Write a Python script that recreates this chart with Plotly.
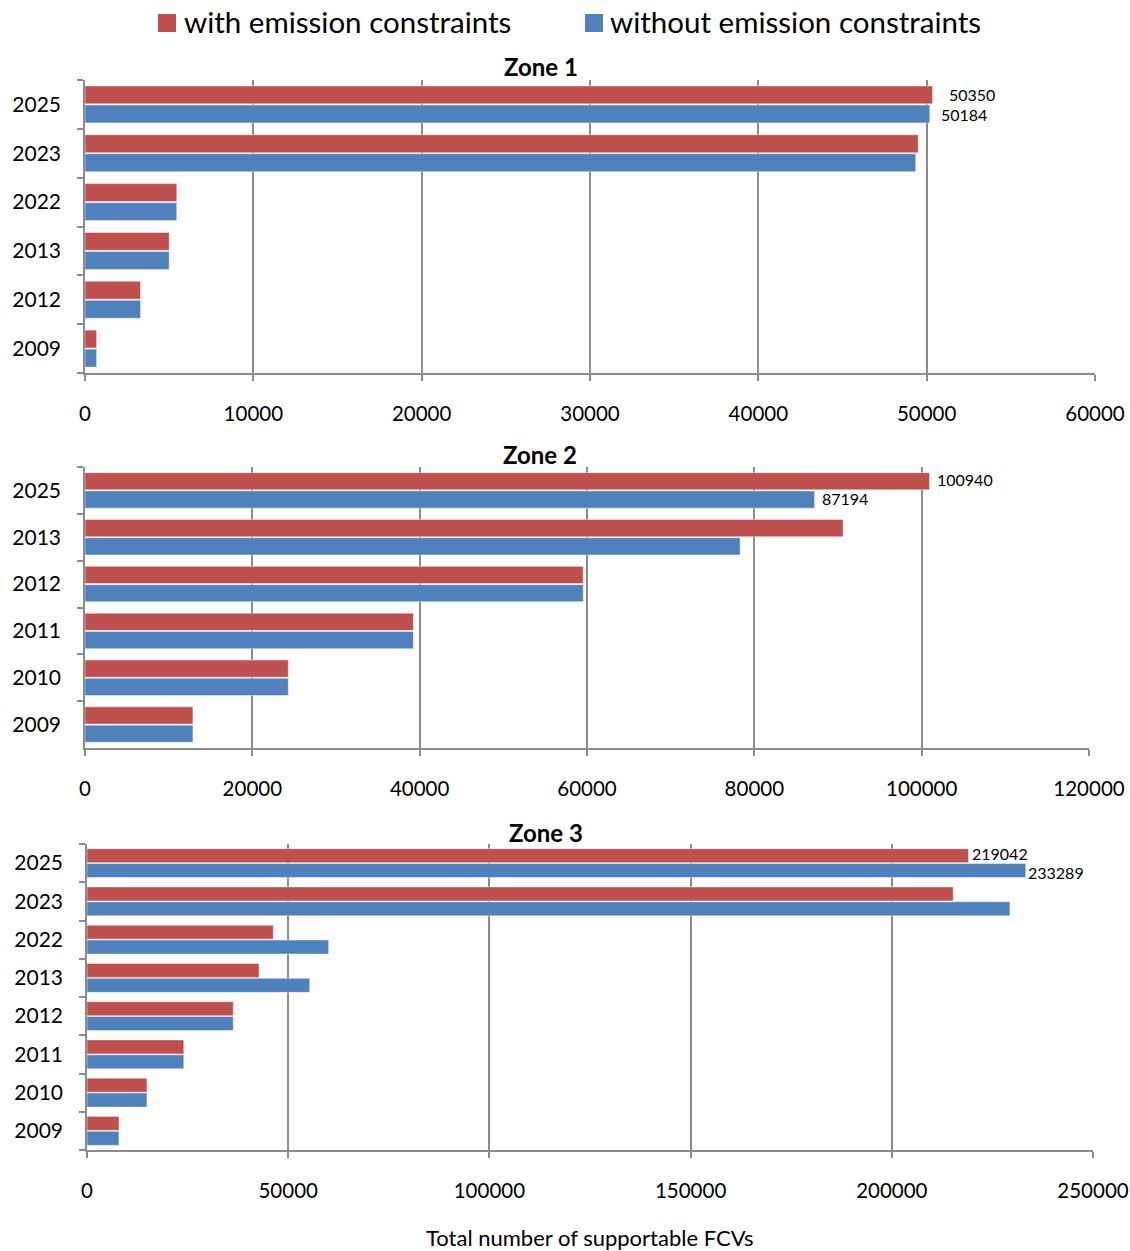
import plotly.graph_objects as go

# ---- data -------------------------------------------------------------
zone1_years = ["2009", "2012", "2013", "2022", "2023", "2025"]
zone1_with = [690, 3300, 5000, 5450, 49500, 50350]
zone1_without = [690, 3300, 5000, 5450, 49350, 50184]

zone2_years = ["2009", "2010", "2011", "2012", "2013", "2025"]
zone2_with = [12900, 24300, 39250, 59550, 90600, 100940]
zone2_without = [12900, 24300, 39250, 59550, 78300, 87194]

zone3_years = ["2009", "2010", "2011", "2012", "2013", "2022", "2023", "2025"]
zone3_with = [7950, 14900, 24050, 36350, 42750, 46300, 215250, 219042]
zone3_without = [7950, 14900, 24050, 36350, 55350, 60050, 229350, 233289]

zone_titles = ["Zone 1", "Zone 2", "Zone 3"]
series_names = ["with emission constraints", "without emission constraints"]
x_ranges = [(0, 60000, 10000), (0, 120000, 20000), (0, 250000, 50000)]
x_title = "Total number of supportable FCVs"

# ---- style ------------------------------------------------------------
W, H = 1130, 1251
RED = "#C0504D"
BLUE = "#4F81BD"
GRID = "#8C8C8C"
FONT = "Lato, Carlito, 'Open Sans', sans-serif"


def px_x(x):
    return x / W


def px_y(y):
    return 1 - y / H


# plot areas in pixels: (left, right, top, bottom)
areas = [(85, 1095, 80, 373), (85, 1089, 467, 748), (87, 1093, 844, 1150)]
title_pos = [(541, 67), (540, 454), (546, 832)]
# offsets of the value labels (xshift red, xshift blue, yshift red, yshift blue)
label_offsets = [(14, 9, 9.5, -10.5), (5, 5, 10.5, -8), (2, 0, 10, -9)]

zones = [
    (zone1_years, zone1_with, zone1_without),
    (zone2_years, zone2_with, zone2_without),
    (zone3_years, zone3_with, zone3_without),
]

fig = go.Figure()
annotations = []

for i, (years, with_c, without_c) in enumerate(zones):
    n = "" if i == 0 else str(i + 1)
    xref, yref = "x" + n, "y" + n
    # blue first so that the red bar sits above it inside each group
    fig.add_trace(go.Bar(
        y=years, x=without_c, orientation="h", name=series_names[1],
        marker=dict(color=BLUE, line=dict(color="rgba(255,255,255,0.45)", width=1)),
        xaxis=xref, yaxis=yref, showlegend=False,
    ))
    fig.add_trace(go.Bar(
        y=years, x=with_c, orientation="h", name=series_names[0],
        marker=dict(color=RED, line=dict(color="rgba(255,255,255,0.45)", width=1)),
        xaxis=xref, yaxis=yref, showlegend=False,
    ))

    l, r, t, b = areas[i]
    lo, hi, step = x_ranges[i]
    fig.update_layout(**{
        "xaxis" + n: dict(
            domain=[px_x(l), px_x(r)], range=[lo, hi], dtick=step, tick0=0,
            tickformat="d", anchor=yref, showgrid=True, gridcolor=GRID,
            gridwidth=1.5, showline=True, linecolor=GRID, linewidth=1.5,
            ticks="outside", ticklen=6, tickcolor=GRID, tickwidth=1.5,
            ticklabelstandoff=16, zeroline=False, automargin=False,
            tickfont=dict(size=20.5, color="#000000", family=FONT),
        ),
        "yaxis" + n: dict(
            domain=[px_y(b), px_y(t)], type="category",
            categoryorder="array", categoryarray=years, anchor=xref,
            range=[-0.5, len(years) - 0.5],
            showline=True, linecolor=GRID, linewidth=1.5,
            ticks="outside", tickson="boundaries", ticklen=6,
            tickcolor=GRID, tickwidth=1.5, automargin=False,
            ticklabelstandoff=18,
            showgrid=False, zeroline=False,
            tickfont=dict(size=21, color="#000000", family=FONT),
        ),
    })

    tx, ty = title_pos[i]
    annotations.append(dict(
        text="<b>" + zone_titles[i] + "</b>", xref="paper", yref="paper",
        x=px_x(tx), y=px_y(ty), showarrow=False, xanchor="center",
        yanchor="middle", font=dict(size=24, color="#000000", family=FONT),
    ))

    # value labels on the latest year (category index of the last year)
    last = len(years) - 1
    xs_r, xs_b, ys_r, ys_b = label_offsets[i]
    annotations.append(dict(
        text=str(with_c[-1]), xref=xref, yref=yref, x=with_c[-1], y=last,
        xanchor="left", yanchor="middle", showarrow=False,
        xshift=xs_r, yshift=ys_r,
        font=dict(size=16, color="#000000", family=FONT),
    ))
    annotations.append(dict(
        text=str(without_c[-1]), xref=xref, yref=yref, x=without_c[-1],
        y=last, xanchor="left", yanchor="middle", showarrow=False,
        xshift=xs_b, yshift=ys_b,
        font=dict(size=16, color="#000000", family=FONT),
    ))

# x axis title under the last panel
annotations.append(dict(
    text=x_title, xref="paper", yref="paper", x=px_x(590), y=px_y(1237),
    xanchor="center", yanchor="middle", showarrow=False,
    font=dict(size=22, color="#000000", family=FONT),
))

# legend drawn at the top: coloured squares with their labels
shapes = []
legend_items = [(158, 182, RED, series_names[0]), (585, 608, BLUE, series_names[1])]
for sx, tx, col, label in legend_items:
    shapes.append(dict(
        type="rect", xref="paper", yref="paper",
        x0=px_x(sx), x1=px_x(sx + 18), y0=px_y(32), y1=px_y(14),
        fillcolor=col, line=dict(width=0),
    ))
    annotations.append(dict(
        text=label, xref="paper", yref="paper", x=px_x(tx), y=px_y(22),
        xanchor="left", yanchor="middle", showarrow=False,
        font=dict(size=29.5, color="#000000", family=FONT),
    ))

fig.update_layout(
    width=W, height=H,
    margin=dict(l=0, r=0, t=0, b=0, autoexpand=False),
    paper_bgcolor="white", plot_bgcolor="white",
    barmode="group", bargap=0.22, bargroupgap=0.06,
    annotations=annotations, shapes=shapes,
    font=dict(family=FONT, color="#000000"),
    showlegend=False,
)

fig.write_html("out.html")
